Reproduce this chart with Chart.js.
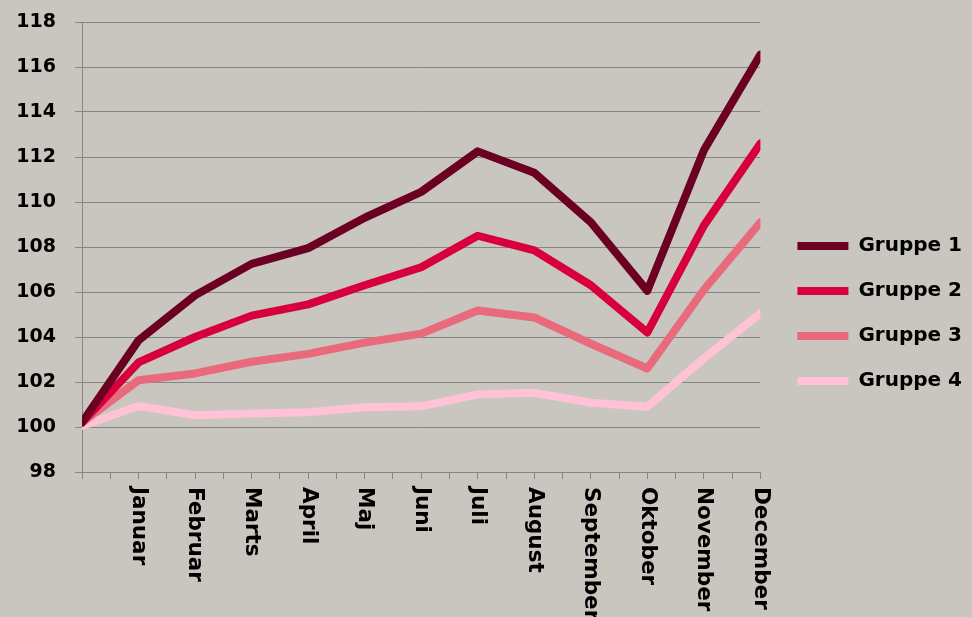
<!DOCTYPE html>
<html><head><meta charset="utf-8">
<script src="https://cdn.jsdelivr.net/npm/chart.js@4/dist/chart.umd.min.js"></script>
<style>html,body{margin:0;padding:0;background:#c9c5bf;} canvas{display:block;}</style>
</head><body>
<canvas id="c" width="972" height="617"></canvas>
<script>
const months = ['', 'Januar', 'Februar', 'Marts', 'April', 'Maj', 'Juni', 'Juli', 'August', 'September', 'Oktober', 'November', 'December'];
const seriesNames = ['Gruppe 1', 'Gruppe 2', 'Gruppe 3', 'Gruppe 4'];
const gruppe1 = [100.2, 103.85, 105.85, 107.25, 107.95, 109.3, 110.45, 112.25, 111.3, 109.1, 106.05, 112.3, 116.55];
const gruppe2 = [100.2, 102.87, 104.0, 104.95, 105.45, 106.3, 107.1, 108.5, 107.85, 106.3, 104.2, 108.95, 112.6];
const gruppe3 = [100.2, 102.08, 102.38, 102.9, 103.25, 103.75, 104.15, 105.18, 104.87, 103.7, 102.6, 106.1, 109.1];
const gruppe4 = [100.05, 100.93, 100.52, 100.6, 100.66, 100.88, 100.92, 101.45, 101.52, 101.08, 100.9, 103.05, 105.05];
const colors = ['#6c0022', '#d8003c', '#e96a7a', '#ffc3d5'];
const yMin = 98, yMax = 118, yStep = 2;

const allSeries = [gruppe1, gruppe2, gruppe3, gruppe4];
const toPoints = arr => arr.map((v, i) => ({x: i, y: v}));

const monthLabels = {
  id: 'monthLabels',
  afterDraw(chart) {
    const xs = chart.scales.x;
    const ctx = chart.ctx;
    ctx.save();
    ctx.font = 'bold 21.5px "DejaVu Sans"';
    ctx.fillStyle = '#000';
    ctx.textAlign = 'left';
    ctx.textBaseline = 'middle';
    months.forEach((m, i) => {
      if (!m) return;
      const x = xs.getPixelForValue(i);
      ctx.save();
      ctx.translate(x, xs.top + 15);
      ctx.rotate(Math.PI / 2);
      ctx.fillText(m, 0, 0);
      ctx.restore();
    });
    ctx.restore();
  }
};

const gridColor = '#858585';

new Chart(document.getElementById('c'), {
  type: 'line',
  data: {
    datasets: allSeries.map((s, k) => ({
      label: seriesNames[k],
      data: toPoints(s),
      borderColor: colors[k],
      backgroundColor: colors[k],
      borderWidth: 8,
      pointRadius: 0,
      tension: 0,
      borderCapStyle: 'round',
      borderJoinStyle: 'round',
      clip: 0
    }))
  },
  options: {
    responsive: false,
    animation: false,
    layout: {padding: {top: 22, bottom: 12, left: 0, right: 0}},
    plugins: {
      tooltip: {enabled: false},
      legend: {
        position: 'right',
        align: 'center',
        maxWidth: 260,
        labels: {
          usePointStyle: true,
          pointStyle: 'line',
          pointStyleWidth: 51,
          boxHeight: 20,
          padding: 25,
          color: '#000',
          font: {family: '"DejaVu Sans"', size: 20, weight: 'bold'}
        }
      }
    },
    scales: {
      x: {
        type: 'linear',
        min: 0,
        max: 12,
        ticks: {stepSize: 0.5, display: false},
        grid: {drawOnChartArea: false, drawTicks: true, tickLength: 7, color: gridColor},
        border: {display: true, color: gridColor},
        afterFit(s) { s.height = 133; s.paddingLeft = 0; s.paddingRight = 0; }
      },
      y: {
        min: yMin,
        max: yMax,
        ticks: {stepSize: yStep, padding: 19, color: '#000', font: {family: '"DejaVu Sans"', size: 19, weight: 'bold'}},
        grid: {color: gridColor, tickLength: 7},
        border: {display: true, color: gridColor},
        afterFit(s) { s.width = 82; s.paddingTop = 0; s.paddingBottom = 0; }
      },
      spacer: {
        type: 'linear',
        position: 'right',
        display: true,
        ticks: {display: false},
        grid: {display: false},
        border: {display: false},
        afterFit(s) { s.width = 12; s.paddingTop = 0; s.paddingBottom = 0; }
      }
    }
  },
  plugins: [monthLabels]
});
</script>
</body></html>
